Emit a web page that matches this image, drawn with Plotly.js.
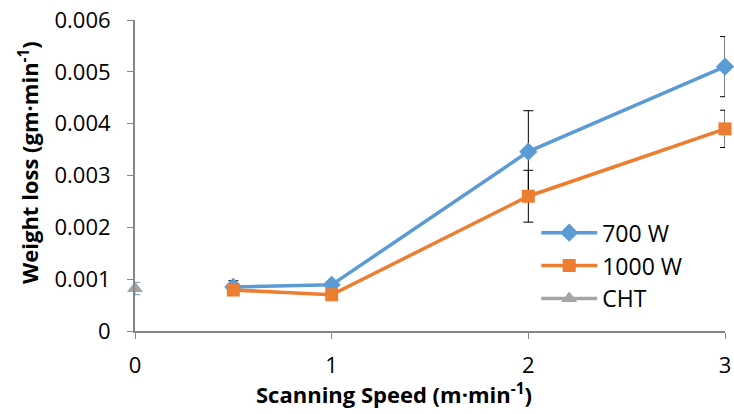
<!DOCTYPE html>
<html><head><meta charset="utf-8">
<script src="https://cdn.plot.ly/plotly-3.0.1.min.js"></script>
<style>html,body{margin:0;padding:0;background:#fff}</style>
</head><body><div id="chart" style="width:734px;height:414px"></div>
<script>
const speed = [0.5, 1, 2, 3];
const w700 = [0.00085, 0.00089, 0.00346, 0.00510];
const w700Err = [0.00012, 0.00002, 0.00079, 0.00058];
const w1000 = [0.00079, 0.00070, 0.00260, 0.00390];
const w1000Err = [0.00003, 0.00002, 0.00050, 0.00036];
const chtX = [0];
const cht = [0.00082];
const chtErr = [0.00012];
const xTicks = [0, 1, 2, 3];
const yTicks = [0, 0.001, 0.002, 0.003, 0.004, 0.005, 0.006];
const xTitle = 'Scanning Speed (m·min<sup>-1</sup>)';
const yTitle = 'Weight loss (gm·min<sup>-1</sup>)';

const traces = [
  {x: speed, y: w700, name: '700 W', mode: 'lines+markers',
   line: {color: '#5B9BD5', width: 3.5}, marker: {symbol: 'diamond', size: 14, color: '#5B9BD5'},
   error_y: {type: 'data', array: w700Err, visible: true, color: '#000', thickness: 1, width: 5}, cliponaxis: false},
  {x: speed, y: w1000, name: '1000 W', mode: 'lines+markers',
   line: {color: '#ED7D31', width: 3.5}, marker: {symbol: 'square', size: 13, color: '#ED7D31'},
   error_y: {type: 'data', array: w1000Err, visible: true, color: '#000', thickness: 1, width: 5}, cliponaxis: false},
  {x: chtX, y: cht, name: 'CHT', mode: 'lines+markers',
   line: {color: '#A5A5A5', width: 3.5}, marker: {symbol: 'triangle-up', size: 14, color: '#A5A5A5'},
   error_y: {type: 'data', array: chtErr, visible: true, color: '#5B9BD5', thickness: 1, width: 5}, cliponaxis: false}
];

const font = 'Open Sans, Liberation Sans, sans-serif';
const layout = {
  width: 734, height: 414,
  margin: {l: 135, r: 9, t: 20, b: 83},
  paper_bgcolor: '#fff', plot_bgcolor: '#fff',
  font: {family: font, size: 22, color: '#000'},
  showlegend: true,
  legend: {x: 0.68, y: 0.385, xanchor: 'left', yanchor: 'top', font: {size: 23}, bgcolor: 'rgba(0,0,0,0)', tracegroupgap: 0, itemwidth: 56},
  xaxis: {range: [0, 3], tickvals: xTicks, ticktext: xTicks.map(String), showgrid: false, zeroline: false,
    showline: true, linecolor: '#868686', linewidth: 2, ticks: 'outside', tickcolor: '#868686', ticklen: 6, tickwidth: 1,
    ticklabelstandoff: 8, tickfont: {size: 22}},
  yaxis: {range: [0, 0.006], tickvals: yTicks, ticktext: ['0','0.001','0.002','0.003','0.004','0.005','0.006'],
    showgrid: false, zeroline: false,
    showline: true, linecolor: '#868686', linewidth: 2, ticks: 'outside', tickcolor: '#868686', ticklen: 6, tickwidth: 1,
    ticklabelstandoff: 12, tickfont: {size: 22}},
  annotations: [
    {text: '<b>' + xTitle + '</b>', xref: 'paper', yref: 'paper', x: (394 - 135) / 590, y: (331 - 393) / 311,
     xanchor: 'center', yanchor: 'middle', showarrow: false, font: {size: 22, family: font}},
    {text: '<b>' + yTitle + '</b>', xref: 'paper', yref: 'paper', x: (28 - 135) / 590, y: (331 - 163) / 311,
     xanchor: 'center', yanchor: 'middle', showarrow: false, textangle: -90, font: {size: 22, family: font}}
  ]
};
Plotly.newPlot('chart', traces, layout, {displayModeBar: false, staticPlot: true});
</script></body></html>
